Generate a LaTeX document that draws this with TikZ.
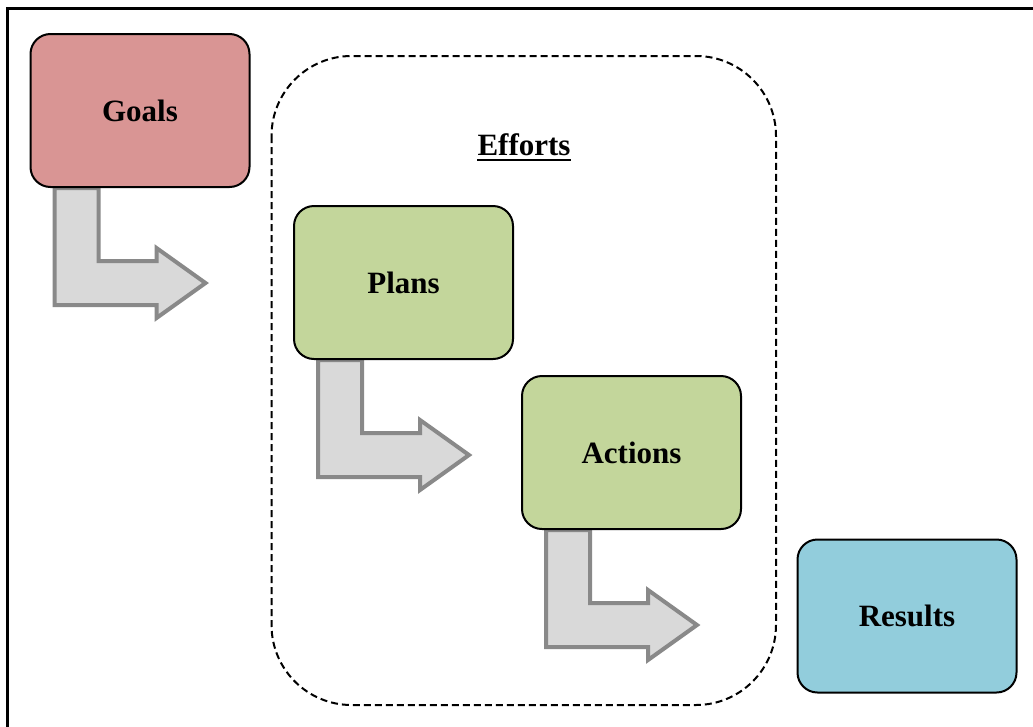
\documentclass[tikz,border=0pt]{standalone}
\usepackage{fontspec}
\setmainfont{Liberation Serif}
\usetikzlibrary{calc,backgrounds}
\definecolor{goalc}{HTML}{D99594}
\definecolor{greenc}{HTML}{C3D69B}
\definecolor{bluec}{HTML}{92CDDC}
\definecolor{arrfill}{HTML}{D9D9D9}
\definecolor{arrline}{HTML}{898989}
\tikzset{
  stagebox/.style={draw=black, line width=2pt, rounded corners=20pt,
    minimum width=219pt, minimum height=153pt, inner sep=0pt,
    font=\fontsize{31}{37}\selectfont\bfseries},
  bentarrow/.style={draw=arrline, fill=arrfill, line width=4pt, line join=miter},
}
\newcommand{\bentarr}[1]{%
  \path[bentarrow]
    ($(#1.south west)+(25,0)$) -- ($(#1.south west)+(69,0)$)
    -- ($(#1.south west)+(69,73)$) -- ($(#1.south west)+(127,73)$)
    -- ($(#1.south west)+(127,60)$) -- ($(#1.south west)+(176,95)$)
    -- ($(#1.south west)+(127,130)$) -- ($(#1.south west)+(127,117)$)
    -- ($(#1.south west)+(25,117)$) -- cycle;}
\begin{document}
\begin{tikzpicture}[x=1pt,y=-1pt]
\useasboundingbox (0,0) rectangle (1033,726);
\draw[line width=2.5pt] (7.5,8.5) rectangle (1045,745);
\draw[dashed, dash pattern=on 7pt off 4pt, line width=2pt, rounded corners=80pt]
  (271.5,56) rectangle (776,705);
\node[stagebox, fill=goalc] (goals) at (140,110.5) {Goals};
\node[stagebox, fill=greenc] (plans) at (403.5,282.5) {Plans};
\node[stagebox, fill=greenc] (actions) at (631.5,452.5) {Actions};
\node[stagebox, fill=bluec] (results) at (907,616) {Results};
\node[anchor=base, inner sep=0pt, font=\fontsize{31}{37}\selectfont\bfseries] (efforts) at (524,155) {Efforts};
\draw[line width=2.5pt] ($(efforts.base west)+(0,5)$) -- ($(efforts.base east)+(0,5)$);
\begin{scope}[on background layer]
\fill[white] (0,0) rectangle (1033,726);
\bentarr{goals}
\bentarr{plans}
\bentarr{actions}
\end{scope}
\end{tikzpicture}
\end{document}
